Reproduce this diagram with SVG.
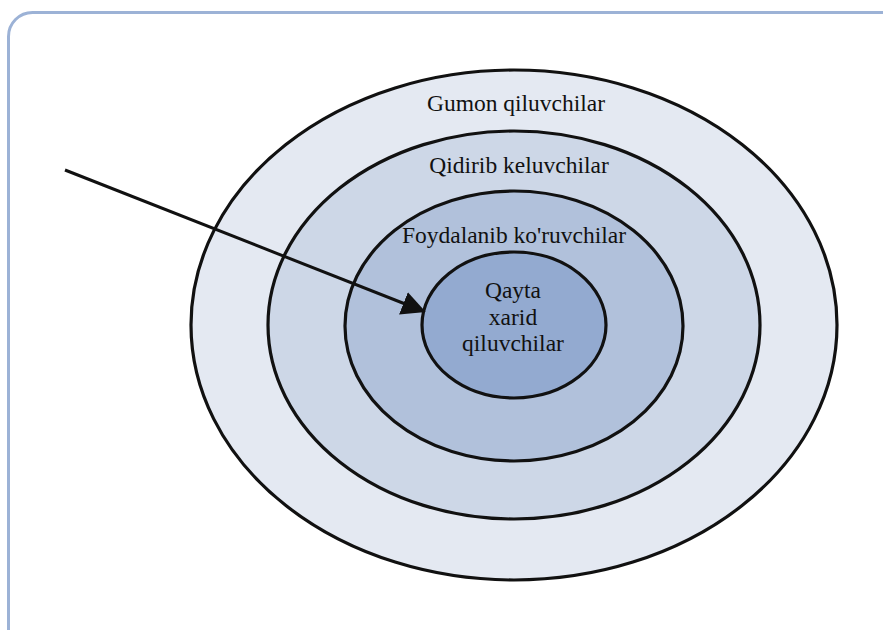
<svg xmlns="http://www.w3.org/2000/svg" width="883" height="630" viewBox="0 0 883 630">
<style>
.ring{stroke:#111;stroke-width:3.2}
.lbl{font-family:"Liberation Serif","Times New Roman",serif;font-size:23.5px;fill:#111;text-anchor:middle}
</style>
<defs>
<marker id="ah" markerWidth="8" markerHeight="8" refX="7" refY="4" orient="auto" markerUnits="strokeWidth">
<path d="M0,0 L8,4 L0,8 z" fill="#111"/>
</marker>
</defs>
<rect width="883" height="630" fill="#fff"/>
<rect x="8.5" y="12.5" width="900" height="640" rx="24" fill="#fff" stroke="#9cb2d6" stroke-width="3"/>
<g id="n1"><ellipse class="ring" cx="514" cy="325" rx="323" ry="255" fill="#e4e9f2"/><text class="lbl" x="516" y="111">Gumon qiluvchilar</text></g>
<g id="n2"><ellipse class="ring" cx="514" cy="325" rx="246" ry="194" fill="#cdd7e7"/><text class="lbl" x="519" y="173">Qidirib keluvchilar</text></g>
<g id="n3"><ellipse class="ring" cx="514" cy="326" rx="169" ry="135" fill="#b1c1db"/><text class="lbl" x="514" y="243">Foydalanib ko'ruvchilar</text></g>
<g id="n4"><ellipse class="ring" cx="514" cy="325" rx="92" ry="73" fill="#93aad0"/><text class="lbl" x="513" y="298">Qayta</text><text class="lbl" x="513" y="325">xarid</text><text class="lbl" x="513" y="351">qiluvchilar</text></g>
<g id="connectors"><line x1="65" y1="170" x2="423" y2="311" stroke="#111" stroke-width="3" marker-end="url(#ah)"/></g>
</svg>
